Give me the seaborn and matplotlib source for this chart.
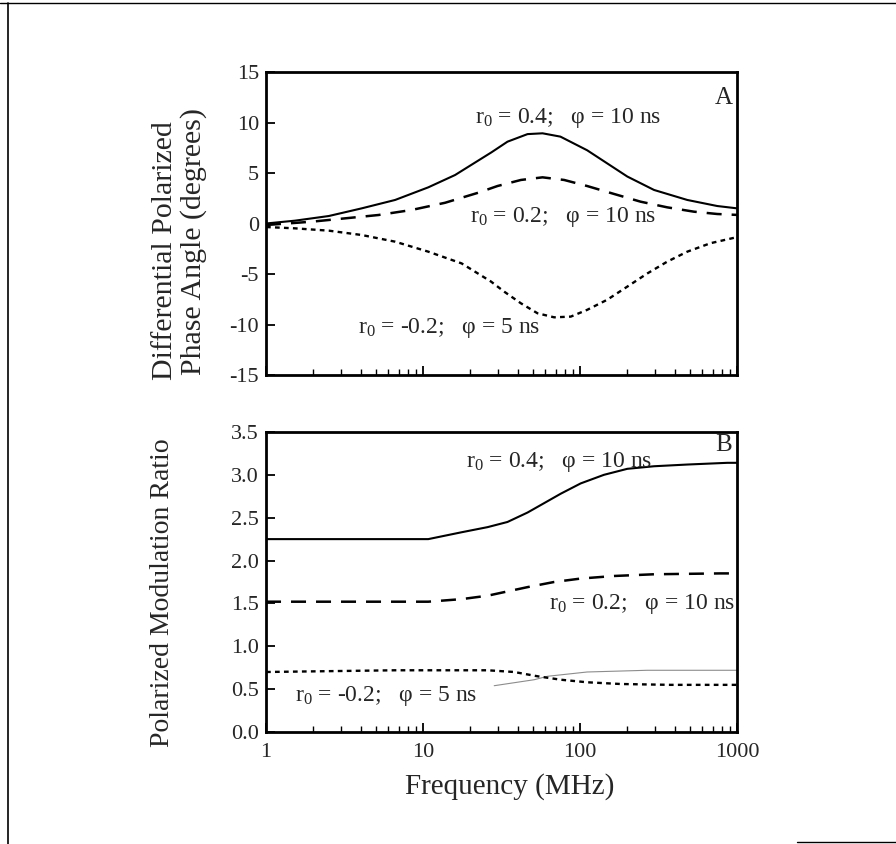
import numpy as np
import pandas as pd
import matplotlib
matplotlib.use("Agg")
import matplotlib.pyplot as plt
import seaborn as sns
from matplotlib.lines import Line2D

# ---------------- data ----------------
# Panel A: differential polarized phase angle (degrees)
freq_a_04 = [1, 1.53, 2.51, 4.07, 6.64, 10.8, 16.0, 27.3, 34.5, 46.3, 57.7, 75.0,
             111, 149, 200, 296, 482, 748, 1000]
phase_04 = [0.05, 0.33, 0.79, 1.55, 2.38, 3.63, 4.85, 7.1, 8.15, 8.9, 8.98, 8.65,
            7.3, 6.0, 4.7, 3.37, 2.38, 1.78, 1.55]

freq_a_02 = [1, 1.96, 3.19, 5.2, 8.47, 13.8, 22.5, 29.8, 42.0, 57.7, 79.2, 111,
             165, 243, 359, 531, 748, 1000]
phase_02 = [-0.1, 0.23, 0.56, 0.89, 1.39, 2.1, 3.1, 3.76, 4.36, 4.62, 4.36, 3.76,
            2.97, 2.21, 1.65, 1.22, 0.99, 0.9]

freq_a_m02 = [1, 1.53, 2.51, 4.07, 6.64, 10.8, 17.6, 27.1, 32.9, 42.0, 53.6, 68.4,
              87.3, 111, 149, 200, 268, 359, 482, 678, 1000]
phase_m02 = [-0.3, -0.43, -0.66, -1.09, -1.75, -2.74, -3.9, -5.7, -6.7, -7.85, -8.84,
             -9.24, -9.17, -8.5, -7.5, -6.2, -4.9, -3.73, -2.74, -1.9, -1.3]

# Panel B: polarized modulation ratio
freq_b_04 = [1, 10.8, 17.6, 25.8, 34.5, 46.3, 59.1, 75.4, 101, 142, 200, 296, 482, 867, 1000]
ratio_04 = [2.25, 2.25, 2.33, 2.39, 2.45, 2.56, 2.67, 2.78, 2.90, 3.0, 3.07, 3.10, 3.12, 3.14, 3.14]

freq_b_02 = [1, 10.8, 17.6, 25.8, 34.5, 46.3, 68.4, 101, 165, 296, 781, 1000]
ratio_02 = [1.52, 1.52, 1.55, 1.59, 1.64, 1.69, 1.75, 1.79, 1.82, 1.84, 1.85, 1.85]

freq_b_m02 = [1, 6.64, 25.8, 38.1, 53.6, 75.4, 111, 181, 377, 824, 1000]
ratio_m02 = [0.70, 0.72, 0.72, 0.70, 0.65, 0.61, 0.58, 0.56, 0.55, 0.55, 0.55]

# faint ghost trace visible in panel B of the scan
freq_b_ghost = [28.4, 51.1, 62.1, 111, 268, 1000]
ratio_ghost = [0.54, 0.61, 0.65, 0.70, 0.72, 0.72]

labels = ["r$_0$ = 0.4;   \u03c6 = 10 ns",
          "r$_0$ = 0.2;   \u03c6 = 10 ns",
          "r$_0$ = -0.2;   \u03c6 = 5 ns"]

xticks = [1, 10, 100, 1000]
xticklabels = ["1", "10", "100", "1000"]
yticks_a = [-15, -10, -5, 0, 5, 10, 15]
yticks_b = [0.0, 0.5, 1.0, 1.5, 2.0, 2.5, 3.0, 3.5]

# ---------------- style ----------------
sns.set_theme(style="white")
plt.rcParams["font.family"] = ["Liberation Serif", "DejaVu Serif"]
plt.rcParams["mathtext.fontset"] = "custom"
plt.rcParams["mathtext.rm"] = "Liberation Serif"
plt.rcParams["mathtext.it"] = "Liberation Serif"
plt.rcParams["xtick.direction"] = "in"
plt.rcParams["ytick.direction"] = "in"

fig = plt.figure(figsize=(8.96, 8.44), dpi=100)
fig.patch.set_facecolor("white")
axA = fig.add_axes([0.2969, 0.5551, 0.5257, 0.359])
axB = fig.add_axes([0.2969, 0.1327, 0.5257, 0.3555])

styles = {
    "solid": dict(linestyle="-", linewidth=1.5, color="black"),
    "dash": dict(linestyle=(0, (6, 4)), linewidth=1.8, color="black"),
    "dot": dict(linestyle=(0, (2.0, 1.8)), linewidth=1.7, color="black"),
    "ghost": dict(linestyle="-", linewidth=0.8, color="0.55"),
}

def draw(ax, xs, ys, st):
    df = pd.DataFrame({"f": xs, "v": ys})
    sns.lineplot(data=df, x="f", y="v", ax=ax, **styles[st])

draw(axA, freq_a_04, phase_04, "solid")
draw(axA, freq_a_02, phase_02, "dash")
draw(axA, freq_a_m02, phase_m02, "dot")

draw(axB, freq_b_ghost, ratio_ghost, "ghost")
draw(axB, freq_b_04, ratio_04, "solid")
draw(axB, freq_b_02, ratio_02, "dash")
draw(axB, freq_b_m02, ratio_m02, "dot")

for ax in (axA, axB):
    ax.set_xscale("log")
    ax.set_xlim(1, 1000)
    ax.set_xticks(xticks)
    ax.set_xlabel("")
    ax.set_ylabel("")
    for s in ax.spines.values():
        s.set_color("black")
        s.set_linewidth(2.0)
    ax.tick_params(axis="both", which="major", length=6.5, width=1.3, color="black",
                   labelsize=16, pad=5, bottom=True, left=True, top=False, right=False)
    ax.tick_params(axis="x", which="minor", length=4.5, width=1.0, color="black",
                   bottom=True, top=False)

axA.set_ylim(-15, 15)
axA.set_yticks(yticks_a)
axA.set_yticklabels([str(v) for v in yticks_a])
axA.set_xticklabels([])
axA.tick_params(axis="x", which="major", labelbottom=False)

axB.set_ylim(0, 3.5)
axB.set_yticks(yticks_b)
axB.set_yticklabels([f"{v:.1f}" for v in yticks_b])
axB.set_xticklabels(xticklabels)
axB.tick_params(axis="x", which="major", pad=8)

fs = 17
axA.text(21.5, 10.0, labels[0], fontsize=fs, va="baseline", ha="left")
axA.text(20.0, 0.15, labels[1], fontsize=fs, va="baseline", ha="left")
axA.text(3.84, -10.8, labels[2], fontsize=fs, va="baseline", ha="left")
axA.text(0.99, 11.9, "A", transform=axA.get_yaxis_transform(), fontsize=18,
         ha="right", va="baseline")

axB.text(18.7, 3.09, labels[0], fontsize=fs, va="baseline", ha="left")
axB.text(63.8, 1.44, labels[1], fontsize=fs, va="baseline", ha="left")
axB.text(1.54, 0.36, labels[2], fontsize=fs, va="baseline", ha="left")
axB.text(0.99, 3.28, "B", transform=axB.get_yaxis_transform(), fontsize=18,
         ha="right", va="baseline")

fig.text(0.184, 0.703, "Differential Polarized", rotation=90, fontsize=21.5,
         ha="center", va="center")
fig.text(0.216, 0.714, "Phase Angle (degrees)", rotation=90, fontsize=21.5,
         ha="center", va="center")
fig.text(0.181, 0.298, "Polarized Modulation Ratio", rotation=90, fontsize=20,
         ha="center", va="center")
fig.text(0.569, 0.0675, "Frequency (MHz)", fontsize=21, ha="center", va="center")

# scan frame edges
fig.add_artist(Line2D([0.0, 1.0], [0.997, 0.997], color="black", linewidth=1.0,
                      transform=fig.transFigure))
fig.add_artist(Line2D([0.009, 0.009], [0.0, 0.997], color="black", linewidth=1.2,
                      transform=fig.transFigure))
fig.add_artist(Line2D([0.89, 1.0], [0.002, 0.002], color="black", linewidth=1.0,
                      transform=fig.transFigure))

fig.savefig("out.png", dpi=100, facecolor="white")
